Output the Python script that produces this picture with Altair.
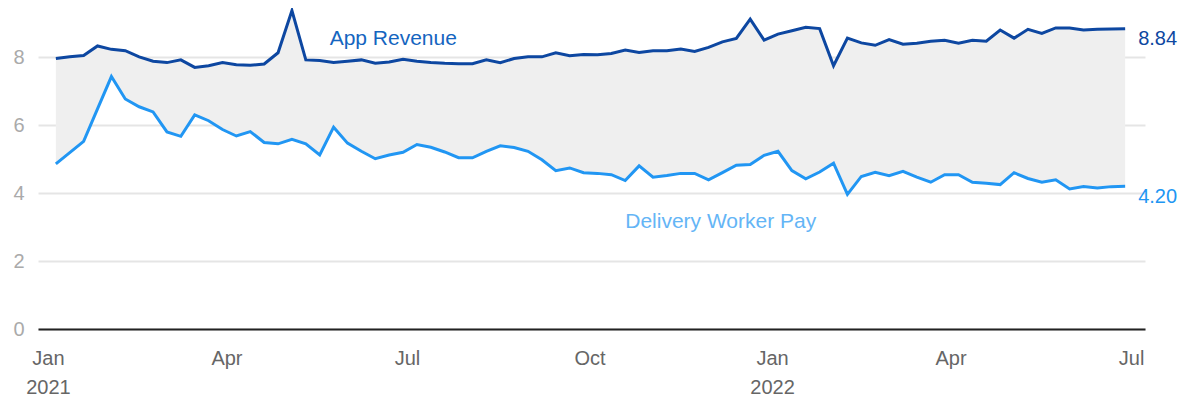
import altair as alt
import pandas as pd

# Weekly observations, Jan 2021 - Jun 2022
start_date = "2021-01-05"
n_weeks = 78

app_revenue = [
    7.96, 8.01, 8.05, 8.33, 8.23, 8.19, 8.01, 7.88, 7.84, 7.92,
    7.70, 7.75, 7.84, 7.78, 7.76, 7.80, 8.13, 9.37, 7.92, 7.90,
    7.84, 7.88, 7.92, 7.82, 7.86, 7.94, 7.88, 7.84, 7.82, 7.81,
    7.81, 7.92, 7.84, 7.96, 8.01, 8.01, 8.13, 8.04, 8.08, 8.07,
    8.11, 8.21, 8.14, 8.19, 8.19, 8.24, 8.17, 8.29, 8.45, 8.55,
    9.12, 8.50, 8.68, 8.78, 8.88, 8.84, 7.75, 8.56, 8.42, 8.35,
    8.52, 8.38, 8.41, 8.47, 8.50, 8.41, 8.50, 8.47, 8.80, 8.56,
    8.82, 8.70, 8.86, 8.86, 8.80, 8.82, 8.83, 8.84,
]

delivery_pay = [
    4.86, 5.19, 5.52, 6.48, 7.43, 6.77, 6.54, 6.39, 5.80, 5.67,
    6.30, 6.13, 5.87, 5.68, 5.81, 5.49, 5.45, 5.58, 5.45, 5.12,
    5.94, 5.47, 5.23, 5.01, 5.12, 5.20, 5.43, 5.35, 5.21, 5.04,
    5.04, 5.23, 5.39, 5.34, 5.23, 4.98, 4.66, 4.74, 4.60, 4.58,
    4.54, 4.37, 4.80, 4.47, 4.52, 4.58, 4.58, 4.39, 4.60, 4.82,
    4.84, 5.11, 5.23, 4.66, 4.42, 4.62, 4.88, 3.96, 4.49, 4.61,
    4.51, 4.64, 4.47, 4.32, 4.54, 4.54, 4.32, 4.29, 4.25, 4.60,
    4.43, 4.32, 4.39, 4.12, 4.19, 4.15, 4.19, 4.20,
]

series_names = ["App Revenue", "Delivery Worker Pay"]
label_dates = ["2021-05-23", "2021-10-19"]
label_values = [8.54, 3.15]

tick_years_months = [(2021, 1), (2021, 4), (2021, 7), (2021, 10),
                     (2022, 1), (2022, 4), (2022, 7)]
y_ticks = [0, 2, 4, 6, 8]

DARK = "#0d47a1"
LIGHT = "#2196f3"
DARK_TXT = "#1565c0"
LIGHT_TXT = "#64b5f6"
FONT = "Liberation Sans"
FS = 21

dates = pd.date_range(start_date, periods=n_weeks, freq="7D").strftime("%Y-%m-%d")
df = pd.DataFrame({"date": dates, "app": app_revenue, "pay": delivery_pay})
last = df.tail(1)
labels = pd.DataFrame({"date": label_dates, "value": label_values, "name": series_names})

x_scale = alt.Scale(domain=[alt.DateTime(year=2020, month=12, date=27, utc=True),
                            alt.DateTime(year=2022, month=7, date=8, utc=True)])
y_scale = alt.Scale(domain=[0, 9.3], nice=False, zero=True)

x_axis = alt.Axis(
    values=[alt.DateTime(year=y, month=m, date=1, utc=True) for y, m in tick_years_months],
    labelExpr="utcmonth(datum.value) == 0 ? [utcFormat(datum.value, '%b'), utcFormat(datum.value, '%Y')] : utcFormat(datum.value, '%b')",
    title=None, grid=False, ticks=False, domain=True, domainColor="#222222",
    domainWidth=2, labelColor="#666666", labelFontSize=FS - 1, labelFont=FONT,
    labelPadding=19, labelLineHeight=29, labelAlign="center",
)
y_axis = alt.Axis(
    values=y_ticks, title=None, ticks=False, domain=False, grid=True,
    gridColor="#e5e5e5", gridWidth=2, labelColor="#aaaaaa", labelFontSize=FS - 1,
    labelFont=FONT, labelPadding=14,
)

base = alt.Chart(df)

area = base.mark_area(color="#efefef").encode(
    x=alt.X("date:T", scale=x_scale, axis=x_axis),
    y=alt.Y("app:Q", scale=y_scale, axis=y_axis),
    y2="pay:Q",
)

line_app = base.mark_line(color=DARK, strokeWidth=3).encode(
    x="date:T", y="app:Q"
)
line_pay = base.mark_line(color=LIGHT, strokeWidth=3).encode(
    x="date:T", y="pay:Q"
)

end_app = alt.Chart(last).mark_text(
    align="left", baseline="middle", dx=13, dy=10, fontSize=FS - 1, font=FONT, color=DARK
).encode(x="date:T", y="app:Q", text=alt.Text("app:Q", format=".2f"))
end_pay = alt.Chart(last).mark_text(
    align="left", baseline="middle", dx=13, dy=11, fontSize=FS - 1, font=FONT, color=LIGHT
).encode(x="date:T", y="pay:Q", text=alt.Text("pay:Q", format=".2f"))

name_labels = alt.Chart(labels).mark_text(
    align="left", baseline="middle", fontSize=FS, font=FONT
).encode(
    x="date:T", y="value:Q", text="name:N",
    color=alt.Color("name:N", scale=alt.Scale(domain=series_names,
                                              range=[DARK_TXT, LIGHT_TXT]),
                    legend=None),
)

chart = alt.layer(area, line_app, line_pay, end_app, end_pay, name_labels).properties(
    width=1107, height=316,
    autosize=alt.AutoSizeParams(type="none"),
    padding={"left": 30, "top": 5, "right": 35, "bottom": 70},
).configure_view(stroke=None)

chart.save("out.html", embed_options={"renderer": "svg", "actions": False})
